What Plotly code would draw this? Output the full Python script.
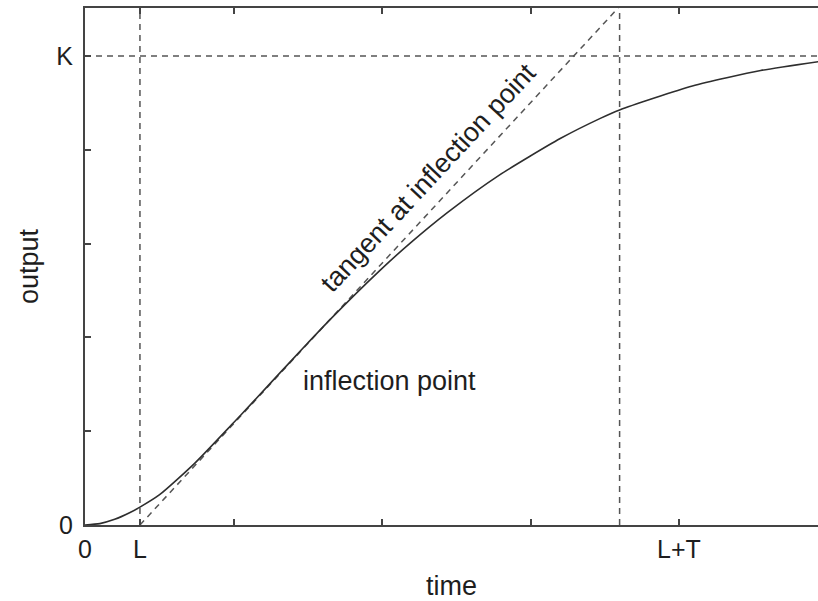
import plotly.graph_objects as go

# Step response (time, output)
time_pts = [0.0, 0.1, 0.2, 0.3, 0.37, 0.5, 0.74, 1.0, 1.11, 1.3, 1.5, 1.65,
            1.99, 2.19, 2.44, 2.79, 3.2, 3.47, 3.6, 4.09, 4.55, 4.94]
output_pts = [0.0, 0.003, 0.012, 0.026, 0.038, 0.064, 0.132, 0.218, 0.255, 0.32,
              0.388, 0.438, 0.544, 0.601, 0.666, 0.746, 0.824, 0.867, 0.885,
              0.936, 0.969, 0.988]

# Characteristic values
K = 1.0          # steady-state gain
L = 0.37         # dead time (tangent crosses zero)
LT_MARK = 3.6    # vertical reference line
X_MAX = 4.936
Y_MAX = 1.1023

# Tangent at the inflection point, from the zero crossing to the top of the frame
tangent_t = [0.37, 3.59]
tangent_y = [0.0, 1.1023]

# Axis tick labels
x_tickvals = [0, L, 1, 2, 3, 4]
x_ticktext = ["0", "L", "", "", "", "L+T"]
y_tickvals = [0, 0.2, 0.4, 0.6, 0.8, 1.0]
y_ticktext = ["0", "", "", "", "", "K"]

FONT = "Liberation Sans, Arial, Helvetica, sans-serif"
AX = "#444444"
DASH = "#555555"

fig = go.Figure()

# Reference lines
for xs, ys in [([0, X_MAX], [K, K]), ([L, L], [0, Y_MAX]),
               ([LT_MARK, LT_MARK], [0, Y_MAX]), (tangent_t, tangent_y)]:
    fig.add_trace(go.Scatter(x=xs, y=ys, mode="lines",
                             line=dict(color=DASH, width=1.5, dash="6px,5px"),
                             hoverinfo="skip", showlegend=False))

# Response curve
fig.add_trace(go.Scatter(x=time_pts, y=output_pts, mode="lines",
                         line=dict(color="#2e2e2e", width=1.6, shape="spline",
                                   smoothing=0.6),
                         showlegend=False))

fig.add_annotation(x=1.455, y=0.307, text="inflection point", showarrow=False,
                   xanchor="left", yanchor="middle",
                   font=dict(family=FONT, size=27, color="#1e1e1e"))
fig.add_annotation(x=2.31, y=0.74, text="tangent at inflection point",
                   showarrow=False, textangle=-47,
                   font=dict(family=FONT, size=27, color="#1e1e1e"))

fig.update_layout(
    width=818, height=601,
    margin=dict(l=85, r=0, t=8, b=76),
    plot_bgcolor="white", paper_bgcolor="white",
    font=dict(family=FONT, size=25, color="#1e1e1e"),
    xaxis=dict(range=[0, X_MAX], showgrid=False, zeroline=False,
               showline=True, linecolor=AX, linewidth=2, mirror="ticks",
               ticks="inside", ticklen=6, tickwidth=1.5, tickcolor=AX,
               tickvals=x_tickvals, ticktext=x_ticktext,
               tickfont=dict(size=25), ticklabelstandoff=1,
               title=dict(text="time", font=dict(size=27), standoff=16)),
    yaxis=dict(range=[0, Y_MAX], showgrid=False, zeroline=False,
               showline=True, linecolor=AX, linewidth=2, mirror=False,
               ticks="inside", ticklen=6, tickwidth=1.5, tickcolor=AX,
               tickvals=y_tickvals, ticktext=y_ticktext,
               tickfont=dict(size=25), ticklabelstandoff=5,
               title=dict(text="output", font=dict(size=27), standoff=10)),
)

fig.write_html("out.html")
